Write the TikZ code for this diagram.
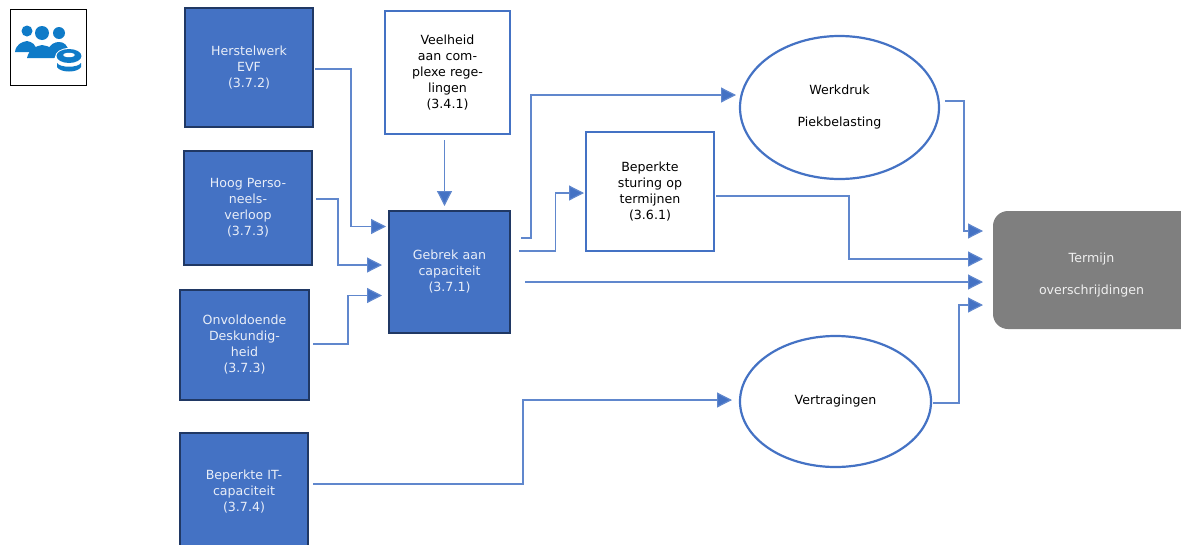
\documentclass[tikz,border=0pt]{standalone}
\usepackage{fontspec}
\setmainfont{DejaVu Sans}
\usetikzlibrary{arrows.meta}
\definecolor{bluef}{HTML}{4472C4}
\definecolor{blued}{HTML}{203864}
\definecolor{greyf}{HTML}{7F7F7F}
\definecolor{icon}{HTML}{0F7BC8}
\tikzset{
  x=1pt,y=-1pt,
  txt/.style={font=\fontsize{12.6}{16}\selectfont,align=center,text width=122pt},
  fillbox/.style={txt,draw=blued,line width=2.4pt,fill=bluef,text=white!88!bluef,minimum width=0pt,inner sep=0pt,anchor=center},
  whitebox/.style={txt,draw=bluef,line width=2.4pt,fill=white,text=black,inner sep=0pt,anchor=center},
  oval/.style={txt,draw=bluef,line width=2.2pt,fill=white,text=black,ellipse,inner sep=0pt},
  conn/.style={draw=bluef!85!white,line width=1.2pt,-{Triangle[length=15pt,width=15pt,fill=bluef]}},
}
\usetikzlibrary{shapes.geometric}
\newcommand{\boxat}[7]{% name, style, x0,y0,x1,y1, text
  \node[#2,minimum width={(#5-#3)*1pt},minimum height={(#6-#4)*1pt},text width={(#5-#3-6)*1pt}] (#1) at ({(#3+#5)/2},{(#4+#6)/2}) {#7};}
\begin{document}
\begin{tikzpicture}
\useasboundingbox (0,0) rectangle (1181,544);
% icon
\node[draw=black,line width=1.6pt,fill=white,minimum width=76pt,minimum height=76pt,inner sep=0pt] (iconbox) at (48.5,47.5) {};
\begin{scope}[fill=icon]
\fill (27,31) circle (5.5);
\fill (15,52) .. controls (16,44) and (22,42) .. (27,41) .. controls (32,42) and (36,44) .. (37,52) -- cycle;
\fill (59,33) circle (6);
\fill (48,50) .. controls (50,44) and (55,42) .. (59,42) .. controls (64,42) and (68,45) .. (69,53) -- (48,53) -- cycle;
\fill (42,33) circle (7);
\fill (27,58) .. controls (29,49) and (36,46) .. (42,45) .. controls (49,46) and (55,49) .. (58,54) -- (54,58) -- cycle;
\fill[white] (69,57) ellipse (14 and 9);
\fill (69,56) ellipse (12.5 and 7);
\fill[white] (69,55) ellipse (6 and 2.2);
\fill (57,63) .. controls (60,68) and (78,68) .. (81,63) -- (81,67) .. controls (78,73) and (60,73) .. (57,67) -- cycle;
\end{scope}
% boxes
\boxat{herstel}{fillbox}{185}{8}{313}{127}{Herstelwerk\\EVF\\(3.7.2)}
\boxat{hoog}{fillbox}{184}{151}{312}{265}{Hoog Perso-\\neels-\\verloop\\(3.7.3)}
\boxat{onv}{fillbox}{180}{290}{309}{400}{Onvoldoende\\Deskundig-\\heid\\(3.7.3)}
\boxat{it}{fillbox}{180}{433}{308}{550}{Beperkte IT-\\capaciteit\\(3.7.4)}
\boxat{gebrek}{fillbox}{389}{211}{510}{333}{Gebrek aan\\capaciteit\\(3.7.1)}
\boxat{veel}{whitebox}{385}{11}{510}{134}{Veelheid\\aan com-\\plexe rege-\\lingen\\(3.4.1)}
\boxat{sturing}{whitebox}{586}{132}{714}{251}{Beperkte\\sturing op\\termijnen\\(3.6.1)}
\node[oval,minimum width=199pt,minimum height=143pt,font=\fontsize{12.6}{32}\selectfont] (werk) at (839.5,107.5) {Werkdruk\\Piekbelasting};
\node[oval,minimum width=191pt,minimum height=131pt] (vert) at (835.5,401.5) {Vertragingen};
\fill[greyf,rounded corners=15pt] (993,211) rectangle (1200,329);
\node[font=\fontsize{12.6}{32}\selectfont,align=center,text=white!88!greyf] (term) at (1091.5,275) {Termijn\\overschrijdingen};
% free ends
\foreach \n/\x/\y in {a/315/69,a2/386/226.5,b/316/199,b2/382/265,c/313/344,c2/382/295.5,d/444.5/140,d2/444.5/206,
 e/521/238,e2/736/95,f/519/251,f2/584/193,g/525/282,g2/983/282,h/716/196,h2/983/259,i/945/101,i2/983/231,j/933/403,j2/983/305,k/313/484,k2/732/400}
  \coordinate (\n) at (\x,\y);
\draw[conn] (a) -- (351,69) -- (351,226.5) -- (a2);
\draw[conn] (b) -- (338,199) -- (338,265) -- (b2);
\draw[conn] (c) -- (348,344) -- (348,295.5) -- (c2);
\draw[conn] (d) -- (d2);
\draw[conn] (e) -- (531,238) -- (531,95) -- (e2);
\draw[conn] (f) -- (555.5,251) -- (555.5,193) -- (f2);
\draw[conn] (g) -- (g2);
\draw[conn] (h) -- (849,196) -- (849,259) -- (h2);
\draw[conn] (i) -- (964,101) -- (964,231) -- (i2);
\draw[conn] (j) -- (959,403) -- (959,305) -- (j2);
\draw[conn] (k) -- (523,484) -- (523,400) -- (k2);
\end{tikzpicture}
\end{document}
